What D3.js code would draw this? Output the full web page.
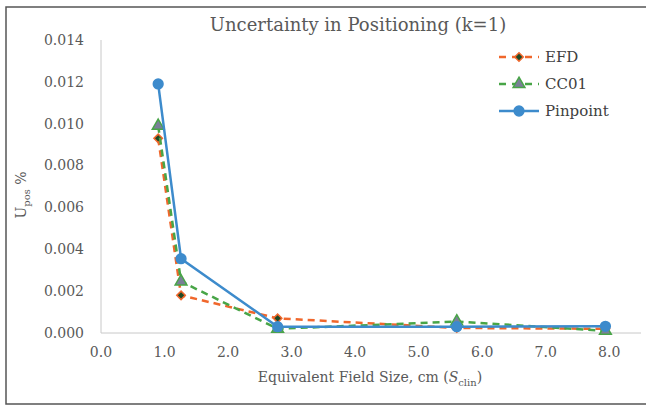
<!DOCTYPE html>
<html>
<head>
<meta charset="utf-8">
<script src="https://cdn.jsdelivr.net/npm/d3@7"></script>
<style>
  body { margin: 0; background: #fff; }
  svg text { font-family: "DejaVu Serif", "Liberation Serif", serif; }
</style>
</head>
<body>
<div id="chart"></div>
<script>
// field sizes (cm)
const fieldSizes = [0.9, 1.26, 2.78, 5.6, 7.94];
const efdValues = [0.0093, 0.0018, 0.0007, 0.00024, 0.0002];
const cc01Values = [0.0099, 0.00246, 0.0002, 0.00055, 0.0001];
const pinpointValues = [0.0119, 0.00355, 0.0003, 0.0003, 0.00032];
const xTicks = [0, 1, 2, 3, 4, 5, 6, 7, 8];
const yTicks = [0, 0.002, 0.004, 0.006, 0.008, 0.01, 0.012, 0.014];

const seriesList = [
  { name: "EFD", values: efdValues, color: "#f0672c", dash: "7,5", marker: "diamond", fill: "#1d4a26", stroke: "#f0672c" },
  { name: "CC01", values: cc01Values, color: "#48a547", dash: "7,5", marker: "triangle", fill: "#7a7f98", stroke: "#48a547" },
  { name: "Pinpoint", values: pinpointValues, color: "#3d8bcc", dash: null, marker: "circle", fill: "#3d8bcc", stroke: "#3d8bcc" },
];

const width = 646, height = 407;
const margin = { top: 40, right: 5, bottom: 74, left: 101 };

const svg = d3.select("#chart").append("svg")
  .attr("width", width)
  .attr("height", height);

// outer frame
svg.append("rect")
  .attr("x", 6).attr("y", 7)
  .attr("width", 660).attr("height", 397)
  .attr("fill", "none")
  .attr("stroke", "#555")
  .attr("stroke-width", 1.5);

const x = d3.scaleLinear().domain([0, 8.5]).range([margin.left, width - margin.right]);
const y = d3.scaleLinear().domain([0, 0.014]).range([height - margin.bottom, margin.top]);

// axes lines
svg.append("line")
  .attr("x1", x(0)).attr("x2", x(0))
  .attr("y1", y(0.014)).attr("y2", y(0))
  .attr("stroke", "#c8c8c8");
svg.append("line")
  .attr("x1", x(0)).attr("x2", x(8.5))
  .attr("y1", y(0)).attr("y2", y(0))
  .attr("stroke", "#c8c8c8");

// tick labels
svg.selectAll(".ytick").data(yTicks).enter().append("text")
  .attr("class", "ytick")
  .attr("x", 84).attr("y", d => y(d))
  .attr("dy", "0.35em")
  .attr("text-anchor", "end")
  .style("font-size", "14px")
  .style("fill", "#595959")
  .text(d => d3.format(".3f")(d));

svg.selectAll(".xtick").data(xTicks).enter().append("text")
  .attr("class", "xtick")
  .attr("x", d => x(d)).attr("y", y(0) + 19)
  .attr("dy", "0.35em")
  .attr("text-anchor", "middle")
  .style("font-size", "14px")
  .style("fill", "#595959")
  .text(d => d3.format(".1f")(d));

// title
svg.append("text")
  .attr("x", 358).attr("y", 31)
  .attr("text-anchor", "middle")
  .style("font-size", "18px")
  .style("fill", "#595959")
  .text("Uncertainty in Positioning (k=1)");

// axis titles
const xt = svg.append("text")
  .attr("x", 370).attr("y", 382)
  .attr("text-anchor", "middle")
  .style("font-size", "14px")
  .style("fill", "#595959");
xt.append("tspan").text("Equivalent Field Size, cm (");
xt.append("tspan").style("font-style", "italic").text("S");
xt.append("tspan").attr("dy", 4).style("font-size", "10px").text("clin");
xt.append("tspan").attr("dy", -4).text(")");

const yt = svg.append("text")
  .attr("transform", "translate(26,195) rotate(-90)")
  .attr("text-anchor", "middle")
  .style("font-size", "14px")
  .style("fill", "#595959");
yt.append("tspan").text("U");
yt.append("tspan").attr("dy", 4).style("font-size", "10px").text("pos");
yt.append("tspan").attr("dy", -4).text(" %");

const symbols = {
  diamond: d3.symbol().type(d3.symbolSquare).size(36),
  triangle: d3.symbol().type(d3.symbolTriangle).size(60),
  circle: d3.symbol().type(d3.symbolCircle).size(75),
};
const rot = m => (m === "diamond" ? " rotate(45)" : "");

const line = d3.line().x(d => x(d[0])).y(d => y(d[1]));

seriesList.forEach(s => {
  const pts = fieldSizes.map((f, i) => [f, s.values[i]]);
  svg.append("path")
    .datum(pts)
    .attr("d", line)
    .attr("fill", "none")
    .attr("stroke", s.color)
    .attr("stroke-width", 2.5)
    .attr("stroke-dasharray", s.dash);
  svg.selectAll(null).data(pts).enter().append("path")
    .attr("d", symbols[s.marker])
    .attr("transform", d => `translate(${x(d[0])},${y(d[1])})` + rot(s.marker))
    .attr("fill", s.fill)
    .attr("stroke", s.stroke)
    .attr("stroke-width", 1.5);
});

// legend
const legend = svg.append("g");
seriesList.forEach((s, i) => {
  const ly = 57 + i * 27;
  legend.append("line")
    .attr("x1", 499).attr("x2", 539)
    .attr("y1", ly).attr("y2", ly)
    .attr("stroke", s.color)
    .attr("stroke-width", 2.5)
    .attr("stroke-dasharray", s.dash ? "7,6" : null);
  legend.append("path")
    .attr("d", symbols[s.marker])
    .attr("transform", `translate(519,${ly})` + rot(s.marker))
    .attr("fill", s.fill)
    .attr("stroke", s.stroke)
    .attr("stroke-width", 1.5);
  legend.append("text")
    .attr("x", 545).attr("y", ly)
    .attr("dy", "0.35em")
    .style("font-size", "15px")
    .style("fill", "#404040")
    .text(s.name);
});
</script>
</body>
</html>
